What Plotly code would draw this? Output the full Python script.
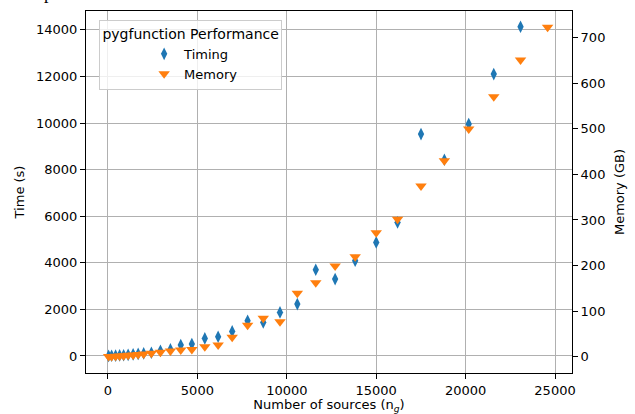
import plotly.graph_objects as go

# Number of sources in each benchmark field
n_sources = [34, 202, 426, 650, 874, 1127, 1407, 1687, 1996, 2427, 2932, 3492,
             4070, 4690, 5415, 6160, 6945, 7808, 8683, 9619, 10589, 11620,
             12702, 13823, 15000, 16194, 17506, 18812, 20174, 21575, 23072,
             24585]

# Wall-clock time (s); the largest field has no timing record
timing_s = [5, 10, 15, 25, 35, 50, 70, 90, 112, 137, 223, 283, 467, 510, 755,
            824, 1056, 1511, 1442, 1871, 2227, 3700, 3300, 4086, 4876, 5734,
            9524, 8421, 9953, 12099, 14129, None]

# Peak memory (GB)
memory_gb = [0.2, 0.5, 1.0, 1.5, 2.2, 3.0, 3.8, 4.8, 5.9, 7.4, 9.5, 12.4,
             14.6, 15.5, 22, 25.7, 42.6, 69, 84.3, 76.8, 139, 162, 199, 219.4,
             272, 301.5, 374.6, 430, 499.7, 570.5, 651, 722.8]

x_ticks = [0, 5000, 10000, 15000, 20000, 25000]
time_ticks = [0, 2000, 4000, 6000, 8000, 10000, 12000, 14000]
mem_ticks = [0, 100, 200, 300, 400, 500, 600, 700]

FONT = "DejaVu Sans"
BLUE = "#1f77b4"
ORANGE = "#ff7f0e"

fig = go.Figure()
fig.add_trace(go.Scatter(
    x=n_sources, y=timing_s, mode="markers", name="Timing",
    marker=dict(symbol="diamond-tall", size=9, color=BLUE,
                line=dict(width=0)),
    yaxis="y",
))
fig.add_trace(go.Scatter(
    x=n_sources, y=memory_gb, mode="markers", name="Memory",
    marker=dict(symbol="triangle-down", size=10, color=ORANGE,
                line=dict(width=0)),
    yaxis="y2",
))

axis_common = dict(
    showline=True, linecolor="black", linewidth=1,
    ticks="outside", ticklen=5, tickwidth=1, tickcolor="black",
    tickfont=dict(family=FONT, size=13, color="black"),
    tickformat="d",
    zeroline=False, automargin=False,
)

fig.update_layout(
    width=635, height=414,
    margin=dict(l=86, r=63, t=11, b=41),
    paper_bgcolor="white", plot_bgcolor="white",
    font=dict(family=FONT, size=13, color="black"),
    xaxis=dict(
        **axis_common, mirror=True,
        range=[-1230, 25950], tickvals=x_ticks,
        showgrid=True, gridcolor="#b0b0b0", gridwidth=1,
        title=dict(text="Number of sources (n<sub><i>g</i></sub>)",
                   font=dict(family=FONT, size=13), standoff=3),
    ),
    yaxis=dict(
        **axis_common,
        range=[-730, 14807], tickvals=time_ticks,
        showgrid=True, gridcolor="#b0b0b0", gridwidth=1,
        title=dict(text="Time (s)", font=dict(family=FONT, size=13),
                   standoff=8),
    ),
    yaxis2=dict(
        **axis_common,
        overlaying="y", side="right",
        range=[-35.8, 758.6], tickvals=mem_ticks, showgrid=False,
        title=dict(text="Memory (GB)", font=dict(family=FONT, size=13),
                   standoff=10),
    ),
    legend=dict(
        x=0.027, y=0.976, xanchor="left", yanchor="top",
        bgcolor="rgba(255,255,255,0.8)", bordercolor="#cccccc", borderwidth=1,
        font=dict(family=FONT, size=13),
        title=dict(text="pygfunction Performance",
                   font=dict(family=FONT, size=14), side="top center"),
        indentation=44,
        tracegroupgap=0,
    ),
    showlegend=True,
)

# fragment of caption text clipped at the top edge
fig.add_annotation(
    text="p", xref="paper", yref="paper", x=-0.09, y=1.05,
    xanchor="left", yanchor="middle", showarrow=False,
    font=dict(family="Liberation Serif", size=18, color="black"),
)

fig.write_html("out.html")
